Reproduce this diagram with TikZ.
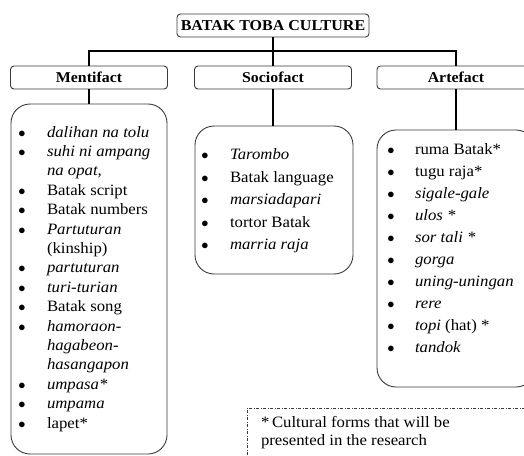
\documentclass[tikz,border=0pt]{standalone}
\usepackage{fontspec}
\setmainfont[FakeStretch=1.06]{Liberation Serif}
\definecolor{boxgray}{HTML}{3A3A3A}
\newcommand\mkitem[5]{%
  \node[bul] (#1b) at (#2,#4) {$\bullet$};
  \node[txt] (#1) at (#3,#4) {#5};}
\newcommand\mkline[4]{%
  \node[txt] (#1) at (#2,#3) {#4};}
\begin{document}
\begin{tikzpicture}[x=1pt,y=-1pt,
  every node/.style={inner sep=0pt, outer sep=0pt},
  hbox/.style={draw=boxgray, line width=0.9pt, rounded corners=3.5pt, fill=white,
    font=\fontsize{15}{18}\selectfont\bfseries},
  listbox/.style={draw=boxgray, line width=0.9pt, rounded corners=19pt},
  conn/.style={line width=2.6pt},
  txt/.style={anchor=base west, font=\fontsize{15.8}{18}\selectfont},
  bul/.style={anchor=base, font=\fontsize{15.3}{18}\selectfont},
  notebox/.style={draw=boxgray, line width=0.8pt,
    dash pattern=on 3pt off 1.6pt on 0.8pt off 1.6pt}]
\useasboundingbox (0,0) rectangle (524,455);

% header boxes
\node[hbox, font=\fontsize{15.1}{18}\selectfont\bfseries, minimum width=192pt, minimum height=23pt] (title) at (273,25.5) {BATAK TOBA CULTURE};
\node[hbox, minimum width=157pt, minimum height=23pt] (ment) at (89,77.5) {Mentifact};
\node[hbox, minimum width=157pt, minimum height=23pt] (socio) at (273,77.5) {Sociofact};
\node[hbox, minimum width=158pt, minimum height=23pt] (art) at (456,77.5) {Artefact};

% list boxes
\node[listbox, minimum width=156pt, minimum height=350pt] (mlist) at (89,279) {};
\node[listbox, minimum width=158pt, minimum height=148pt] (slist) at (274,200) {};
\node[listbox, minimum width=158pt, minimum height=257pt] (alist) at (456,258.5) {};

% connectors
\coordinate (hub) at (273,51);
\draw[conn] (title.south) -- (hub);
\draw[conn] (hub) -| (ment.north);
\draw[conn] (hub) -| (art.north);
\draw[conn] (hub) -- (socio.north);
\draw[conn] (ment.south) -- (ment.south |- mlist.north);
\draw[conn] (socio.south) -- (socio.south |- slist.north);
\draw[conn] (art.south) -- (art.south |- alist.north);

% Mentifact items
\mkitem{m1}{22}{47}{137}{\textit{dalihan na tolu}}
\mkitem{m2}{22}{47}{156.4}{\textit{suhi ni ampang}}
\mkline{m3}{47}{175.8}{\textit{na opat,}}
\mkitem{m4}{22}{47}{195.2}{Batak script}
\mkitem{m5}{22}{47}{214.6}{Batak numbers}
\mkitem{m6}{22}{47}{234}{\textit{Partuturan}}
\mkline{m7}{47}{253.4}{(kinship)}
\mkitem{m8}{22}{47}{272.8}{\textit{partuturan}}
\mkitem{m9}{22}{47}{292.2}{\textit{turi-turian}}
\mkitem{m10}{22}{47}{311.6}{Batak song}
\mkitem{m11}{22}{47}{331}{\textit{hamoraon-}}
\mkline{m12}{47}{350.4}{\textit{hagabeon-}}
\mkline{m13}{47}{369.8}{\textit{hasangapon}}
\mkitem{m14}{22}{47}{389.2}{\textit{umpasa*}}
\mkitem{m15}{22}{47}{408.6}{\textit{umpama}}
\mkitem{m16}{22}{47}{428}{lapet*}

% Sociofact items
\mkitem{s1}{205}{230}{159}{\textit{Tarombo}}
\mkitem{s2}{205}{230}{182}{Batak language}
\mkitem{s3}{205}{230}{204.5}{\textit{marsiadapari}}
\mkitem{s4}{205}{230}{227}{tortor Batak}
\mkitem{s5}{205}{230}{249.5}{\textit{marria raja}}

% Artefact items
\mkitem{a1}{391}{415}{154}{ruma Batak*}
\mkitem{a2}{391}{415}{176}{tugu raja*}
\mkitem{a3}{391}{415}{198}{\textit{sigale-gale}}
\mkitem{a4}{391}{415}{220}{\textit{ulos *}}
\mkitem{a5}{391}{415}{242}{\textit{sor tali *}}
\mkitem{a6}{391}{415}{264}{\textit{gorga}}
\mkitem{a7}{391}{415}{286}{\textit{uning-uningan}}
\mkitem{a8}{391}{415}{308}{\textit{rere}}
\mkitem{a9}{391}{415}{330}{\textit{topi} (hat) *}
\mkitem{a10}{391}{415}{352}{\textit{tandok}}

% note box
\node[notebox, anchor=north west, minimum width=300pt, minimum height=70pt] (note) at (247,408) {};
\mkline{n1}{261}{427}{*\,Cultural forms that will be}
\mkline{n2}{261}{445}{presented in the research}
\end{tikzpicture}
\end{document}
